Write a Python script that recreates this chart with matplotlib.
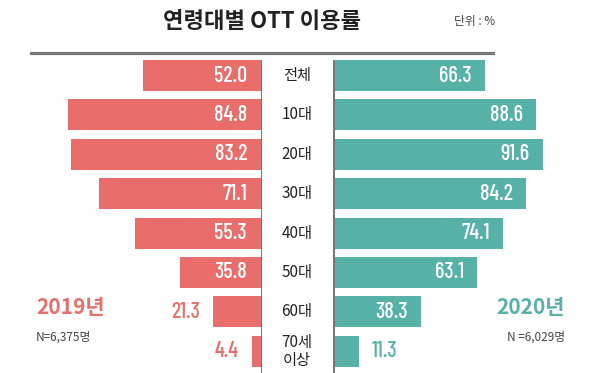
import matplotlib
matplotlib.use('Agg')
from matplotlib import pyplot as plt
import numpy as np

plt.rcParams['font.family'] = ['Noto Sans CJK KR', 'DejaVu Sans']

# Data

categories = ['전체', '10대', '20대', '30대', '40대', '50대', '60대', '70세\n이상']
rate_2019 = [52.0, 84.8, 83.2, 71.1, 55.3, 35.8, 21.3, 4.4]
rate_2020 = [66.3, 88.6, 91.6, 84.2, 74.1, 63.1, 38.3, 11.3]

red = '#E96D6B'
teal = '#56B1A6'
gray = '#777777'
num_font = ['Barlow Condensed', 'Roboto Condensed', 'Oswald', 'DejaVu Sans']

W, H = 599, 373
fig = plt.figure(figsize=(W/100, H/100), dpi=100)

def fx(px):
    return px/W

def fy(py):
    return 1 - py/H

# Layout in pixels
scale = 2.29        # px per percent
row0, step = 75.5, 39.4
ylim = ((H-row0)/step, -row0/step)
y = np.arange(len(categories))

axL = fig.add_axes([0, 0, fx(262), 1])
axR = fig.add_axes([fx(333), 0, fx(W-333), 1])
axL.set_xlim(262/scale, 0)
axR.set_xlim(0, (W-333)/scale)
for ax in (axL, axR):
    ax.set_ylim(*ylim)
    ax.axis('off')
    ax.vlines(0, -0.39, ylim[0], color=gray, lw=2.2, zorder=3)

axL.barh(y, rate_2019, height=0.79, color=red)
axR.barh(y, rate_2020, height=0.79, color=teal)

# Value labels
pad_in = 15/scale
pad_out = 13/scale
kw = dict(va='center', fontsize=16, fontweight='medium', family=num_font)
for i, v in enumerate(rate_2019):
    if v > 30:
        axL.text(pad_in, i, f'{v:.1f}', ha='right', color='white', **kw)
    else:
        axL.text(v+pad_out, i, f'{v:.1f}', ha='right', color=red, **kw)
for i, v in enumerate(rate_2020):
    if v > 30:
        axR.text(v-pad_out, i, f'{v:.1f}', ha='right', color='white', **kw)
    else:
        axR.text(v+pad_out, i, f'{v:.1f}', ha='left', color=teal, **kw)

# Category labels
for i, c in enumerate(categories):
    fig.text(fx(297), fy(row0+step*i), c, ha='center', va='center',
             fontsize=11, color='#222222', linespacing=1.1)

# Title and header
fig.text(fx(262), fy(22), '연령대별 OTT 이용률', ha='center', va='center',
         fontsize=16, fontweight='bold', color='#222222')
fig.text(fx(495), fy(22), '단위 : %', ha='right', va='center',
         fontsize=8.5, color='#444444')
fig.add_artist(plt.Line2D([fx(31), fx(493)], [fy(53), fy(53)], color=gray, lw=2.3))

# Year labels
fig.text(fx(36), fy(308), '2019년', ha='left', va='center', fontsize=15,
         fontweight='bold', color=red)
fig.text(fx(36), fy(337), 'N=6,375명', ha='left', va='center', fontsize=8.5, color='#444444')
fig.text(fx(565), fy(308), '2020년', ha='right', va='center', fontsize=15,
         fontweight='bold', color=teal)
fig.text(fx(565), fy(337), 'N =6,029명', ha='right', va='center', fontsize=8.5, color='#444444')

plt.savefig('out.png', dpi=100)
